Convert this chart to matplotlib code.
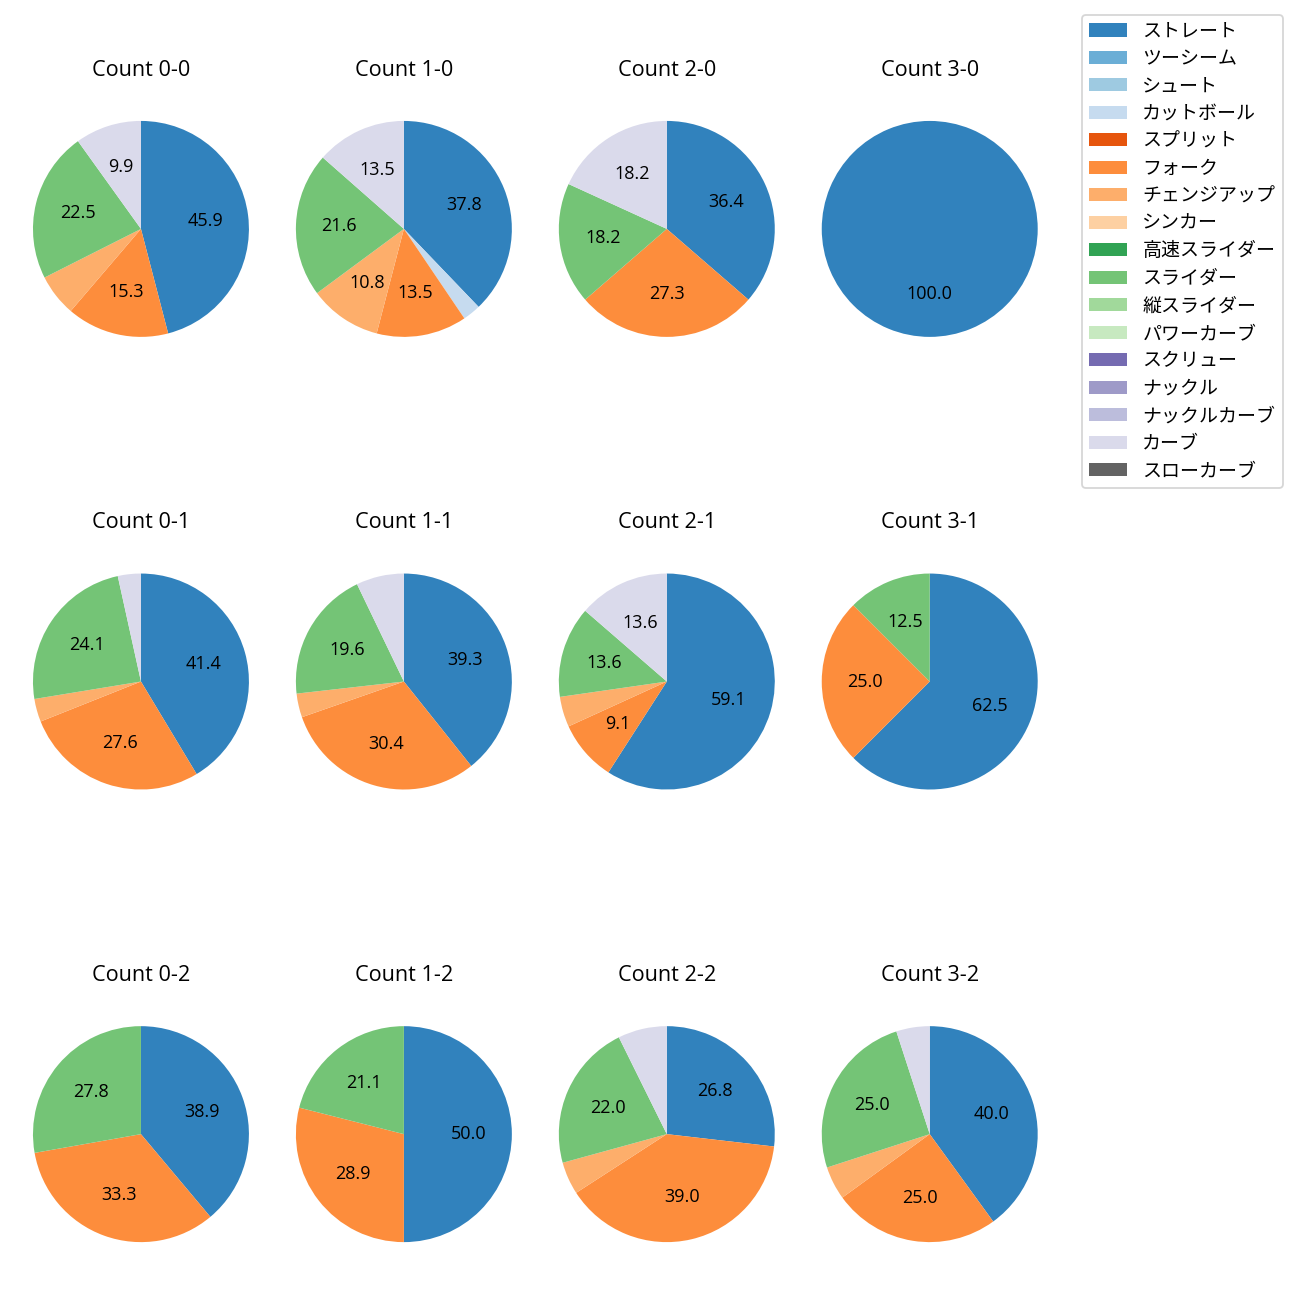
import matplotlib
matplotlib.use("Agg")
import matplotlib.pyplot as plt
from matplotlib.patches import Patch
import numpy as np

plt.rcParams['font.family'] = ['Open Sans', 'Noto Sans CJK JP', 'DejaVu Sans']

pitch_types = ["ストレート", "ツーシーム", "シュート", "カットボール", "スプリット", "フォーク",
               "チェンジアップ", "シンカー", "高速スライダー", "スライダー", "縦スライダー",
               "パワーカーブ", "スクリュー", "ナックル", "ナックルカーブ", "カーブ", "スローカーブ"]

# balls, strikes for each panel (rows = strikes, columns = balls)
balls = [0, 1, 2, 3]
strikes = [0, 1, 2]

# pitch counts per ball-strike count, in pitch_types order
count_0_0 = [51, 0, 0, 0, 0, 17, 7, 0, 0, 25, 0, 0, 0, 0, 0, 11, 0]
count_1_0 = [14, 0, 0, 1, 0, 5, 4, 0, 0, 8, 0, 0, 0, 0, 0, 5, 0]
count_2_0 = [4, 0, 0, 0, 0, 3, 0, 0, 0, 2, 0, 0, 0, 0, 0, 2, 0]
count_3_0 = [1, 0, 0, 0, 0, 0, 0, 0, 0, 0, 0, 0, 0, 0, 0, 0, 0]
count_0_1 = [12, 0, 0, 0, 0, 8, 1, 0, 0, 7, 0, 0, 0, 0, 0, 1, 0]
count_1_1 = [22, 0, 0, 0, 0, 17, 2, 0, 0, 11, 0, 0, 0, 0, 0, 4, 0]
count_2_1 = [13, 0, 0, 0, 0, 2, 1, 0, 0, 3, 0, 0, 0, 0, 0, 3, 0]
count_3_1 = [5, 0, 0, 0, 0, 2, 0, 0, 0, 1, 0, 0, 0, 0, 0, 0, 0]
count_0_2 = [7, 0, 0, 0, 0, 6, 0, 0, 0, 5, 0, 0, 0, 0, 0, 0, 0]
count_1_2 = [19, 0, 0, 0, 0, 11, 0, 0, 0, 8, 0, 0, 0, 0, 0, 0, 0]
count_2_2 = [11, 0, 0, 0, 0, 16, 2, 0, 0, 9, 0, 0, 0, 0, 0, 3, 0]
count_3_2 = [8, 0, 0, 0, 0, 5, 1, 0, 0, 5, 0, 0, 0, 0, 0, 1, 0]

pitch_data = {
    (0, 0): count_0_0, (1, 0): count_1_0, (2, 0): count_2_0, (3, 0): count_3_0,
    (0, 1): count_0_1, (1, 1): count_1_1, (2, 1): count_2_1, (3, 1): count_3_1,
    (0, 2): count_0_2, (1, 2): count_1_2, (2, 2): count_2_2, (3, 2): count_3_2,
}

colors = [plt.cm.tab20c(i) for i in range(len(pitch_types))]


def autopct_fmt(pct):
    # small slices stay unlabelled
    return f"{pct:.1f}" if pct >= 8 else ""


fig, axs = plt.subplots(nrows=3, ncols=4, figsize=(10, 10),
                        gridspec_kw=dict(left=0.0046, right=0.819, top=0.9392, bottom=0.0123,
                                         wspace=-0.026, hspace=0.51))

for s in strikes:
    for b in balls:
        ax = axs[s, b]
        values = np.array(pitch_data[(b, s)])
        mask = values > 0
        ax.pie(values[mask], colors=[c for c, m in zip(colors, mask) if m],
               startangle=90, counterclock=False, autopct=autopct_fmt)
        ax.set_title(f"Count {b}-{s}", fontsize=12, pad=10)

handles = [Patch(facecolor=c, label=p) for c, p in zip(colors, pitch_types)]
fig.legend(handles=handles, loc="upper right", bbox_to_anchor=(0.9942, 0.9958), fontsize=10.5)

fig.savefig("out.png", dpi=130)
